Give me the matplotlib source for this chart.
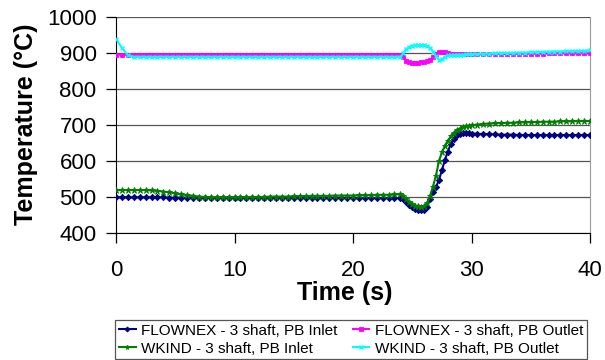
import matplotlib
matplotlib.use("Agg")
import matplotlib.pyplot as plt

plt.rcParams['font.family'] = ['Liberation Sans', 'DejaVu Sans']

# Time samples (s)
time_s = [
    0, 0.5, 1, 1.5, 2, 2.5, 3, 3.5, 4, 4.5, 5, 5.5, 6, 6.5, 7, 7.5, 8, 8.5, 9, 9.5,
    10, 10.5, 11, 11.5, 12, 12.5, 13, 13.5, 14, 14.5, 15, 15.5, 16, 16.5, 17, 17.5,
    18, 18.5, 19, 19.5, 20, 20.5, 21, 21.5, 22, 22.5, 23, 23.5, 24,
    24.25, 24.5, 24.75, 25, 25.25, 25.5, 25.75, 26, 26.25, 26.5, 26.75, 27,
    27.25, 27.5, 27.75, 28, 28.25, 28.5, 28.75, 29, 29.25, 29.5, 29.75, 30,
    30.5, 31, 31.5, 32, 32.5, 33, 33.5, 34, 34.5, 35, 35.5, 36, 36.5, 37, 37.5,
    38, 38.5, 39, 39.5, 40,
]

# FLOWNEX - 3 shaft, PB Inlet (°C)
flownex_inlet = [
    500, 500, 500, 500, 500, 500, 500, 500, 500,
    499, 499, 499, 499, 499, 499, 499, 499, 499, 499, 499, 499, 499, 499, 499, 499,
    498, 498, 498, 498, 498, 498, 498, 498, 498, 498, 498, 498,
    498, 498, 498, 498, 498, 498, 498, 498, 498, 498, 498, 498,
    494, 486, 478, 472, 468, 466, 465, 465, 474, 496, 515, 528,
    548, 575, 603, 627, 648, 662, 672, 677, 679, 679, 678, 677,
    676, 676, 675, 675, 674, 674, 674, 673, 673, 673, 673, 673, 673, 673, 673,
    673, 673, 673, 673, 673,
]

# FLOWNEX - 3 shaft, PB Outlet (°C)
flownex_outlet = [
    896, 896, 896, 896, 896, 896, 896, 896, 896, 896, 896, 896, 896, 896, 896, 896,
    896, 896, 896, 896, 896, 896, 896, 896, 896, 896, 896, 896, 896, 896, 896, 896,
    896, 896, 896, 896, 896, 896, 896, 896, 896, 896, 896, 896, 896, 896, 896, 896, 896,
    890, 880, 875, 873, 873, 874, 875, 876, 878, 882, 889, 897,
    903, 905, 904, 901, 899, 898, 897, 897, 897, 897, 897, 897,
    897, 897, 897.5, 898, 898, 898, 898.5, 898.5, 899, 899, 899, 899, 899.5, 899.5,
    900, 900, 900, 900, 900, 900,
]

# WKIND - 3 shaft, PB Inlet (°C)
wkind_inlet = [
    520, 520, 520, 520, 520, 520, 519, 518, 516, 514, 511, 508, 506, 504, 502, 501,
    500, 500, 500, 500, 500, 500, 501, 501, 501, 501, 502, 502, 502, 502, 503, 503,
    503, 504, 504, 504, 504, 505, 505, 505, 505, 506, 506, 506, 507, 507, 507, 508, 508,
    503, 495, 487, 481, 477, 475, 474, 475, 484, 503, 530, 560,
    600, 625, 643, 657, 669, 679, 686, 691, 695, 698, 699, 700,
    702, 704, 705, 706, 706, 707, 707, 708, 708, 709, 709, 710, 710, 710, 711,
    711, 711, 712, 712, 712,
]

# WKIND - 3 shaft, PB Outlet (°C)
wkind_outlet = [
    940, 915, 895, 890, 890, 890, 890, 890, 890, 890, 890, 890, 890, 890, 890, 890,
    890, 890, 890, 890, 890, 890, 890, 890, 890, 890, 890, 890, 890, 890, 890, 890,
    890, 890, 890, 890, 890, 890, 890, 890, 890, 890, 890, 890, 890, 890, 890, 890, 890,
    900, 912, 918, 921, 922, 923, 923, 922, 920, 915, 905, 892,
    882, 883, 890, 894, 895, 895, 896, 896, 896, 897, 897, 897,
    898, 899, 899, 900, 900, 901, 901, 902, 902, 903, 903, 904, 904, 905, 905,
    906, 906, 907, 907, 908,
]

labels = [
    "FLOWNEX - 3 shaft, PB Inlet",
    "FLOWNEX - 3 shaft, PB Outlet",
    "WKIND - 3 shaft, PB Inlet",
    "WKIND - 3 shaft, PB Outlet",
]
x_ticks = [0, 10, 20, 30, 40]
y_ticks = [400, 500, 600, 700, 800, 900, 1000]

fig = plt.figure(figsize=(6.05, 3.60), dpi=100)
ax = fig.add_axes([116 / 605, 1 - 233.3 / 360, (590 - 116) / 605, (233.3 - 17.3) / 360])

h_fi, = ax.plot(time_s, flownex_inlet, color="#000080", lw=1.5, marker="D",
                ms=3.2, mew=0.6, label=labels[0], zorder=3)
h_fo, = ax.plot(time_s, flownex_outlet, color="#FF00FF", lw=1.5, marker="s",
                ms=3.2, mew=0.6, label=labels[1], zorder=3)
h_wi, = ax.plot(time_s, wkind_inlet, color="#008000", lw=1.5, marker="*",
                ms=4.5, mew=0.6, label=labels[2], zorder=4)
h_wo, = ax.plot(time_s, wkind_outlet, color="#00FFFF", lw=1.5, marker="x",
                ms=3.5, mew=1.0, label=labels[3], zorder=4)

ax.set_xlim(0, 40)
ax.set_ylim(400, 1000)
ax.set_xticks(x_ticks)
ax.set_yticks(y_ticks)
ax.yaxis.grid(True, color="#555555", lw=0.9)
ax.set_axisbelow(True)

ax.spines["top"].set_visible(False)
ax.spines["right"].set_color("#999999")
ax.spines["left"].set_color("black")
ax.spines["bottom"].set_color("black")

ax.tick_params(axis="both", direction="out", length=7, width=0.9,
               labelsize=16, colors="black")
ax.tick_params(axis="y", pad=7)
ax.tick_params(axis="x", pad=12)

fig.text(345 / 605, 1 - 293 / 360, "Time (s)", ha="center", va="center",
         fontsize=18, fontweight="bold")
fig.text(26 / 605, 1 - 124 / 360, "Temperature (°C)", ha="center", va="center",
         rotation=90, fontsize=18, fontweight="bold")

leg = fig.legend(handles=[h_fi, h_wi, h_fo, h_wo], ncol=2,
                 loc="upper left", bbox_to_anchor=(115 / 605, 1 - 320 / 360),
                 fontsize=11, frameon=True, fancybox=False, framealpha=1,
                 edgecolor="#555555", handlelength=1.1, handletextpad=0.35,
                 columnspacing=1.0, labelspacing=0.25, borderpad=0.25,
                 borderaxespad=0, markerscale=0.8)
leg.get_frame().set_linewidth(0.9)

fig.savefig("out.png", dpi=100)
